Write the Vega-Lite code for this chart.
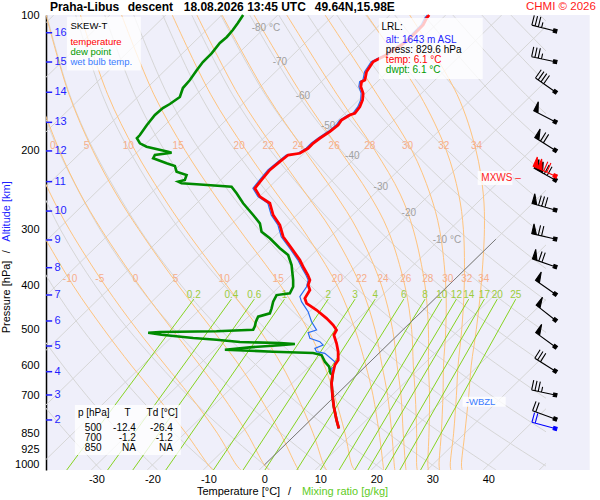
{
  "$schema": "https://vega.github.io/schema/vega-lite/v6.json",
  "width": 500,
  "height": 455,
  "autosize": {"type": "none"},
  "padding": {"left": 46, "top": 15, "right": 54, "bottom": 30},
  "background": "white",
  "config": {
    "font": "Liberation Sans",
    "view": {"fill": "#efeffa", "stroke": null},
    "axis": {"labelFont": "Liberation Sans"}
  },
  "datasets": {
    "iso": [
      {"id": -120, "x": -120.92, "p": 1026}, {"id": -120, "x": -37.6, "p": 100},
      {"id": -110, "x": -110.92, "p": 1026}, {"id": -110, "x": -27.6, "p": 100},
      {"id": -100, "x": -100.92, "p": 1026}, {"id": -100, "x": -17.6, "p": 100},
      {"id": -90, "x": -90.92, "p": 1026}, {"id": -90, "x": -7.6, "p": 100},
      {"id": -80, "x": -80.92, "p": 1026}, {"id": -80, "x": 2.4, "p": 100},
      {"id": -70, "x": -70.92, "p": 1026}, {"id": -70, "x": 12.4, "p": 100},
      {"id": -60, "x": -60.92, "p": 1026}, {"id": -60, "x": 22.4, "p": 100},
      {"id": -50, "x": -50.92, "p": 1026}, {"id": -50, "x": 32.4, "p": 100},
      {"id": -40, "x": -40.92, "p": 1026}, {"id": -40, "x": 42.4, "p": 100},
      {"id": -30, "x": -30.92, "p": 1026}, {"id": -30, "x": 52.4, "p": 100},
      {"id": -20, "x": -20.92, "p": 1026}, {"id": -20, "x": 62.4, "p": 100},
      {"id": -10, "x": -10.92, "p": 1026}, {"id": -10, "x": 72.4, "p": 100},
      {"id": 0, "x": -0.92, "p": 1026}, {"id": 0, "x": 82.4, "p": 100},
      {"id": 10, "x": 9.08, "p": 1026}, {"id": 10, "x": 92.4, "p": 100},
      {"id": 20, "x": 19.08, "p": 1026}, {"id": 20, "x": 102.4, "p": 100},
      {"id": 30, "x": 29.08, "p": 1026}, {"id": 30, "x": 112.4, "p": 100},
      {"id": 40, "x": 39.08, "p": 1026}, {"id": 40, "x": 122.4, "p": 100},
      {"id": 50, "x": 49.08, "p": 1026}, {"id": 50, "x": 132.4, "p": 100}
    ],
    "dry": [
      {"id": -30, "x": -29.13, "p": 1026}, {"id": -30, "x": -30, "p": 1000}, {"id": -30, "x": -35.21, "p": 850}, {"id": -30, "x": -40.81, "p": 700}, {"id": -30, "x": -48.89, "p": 500},
      {"id": -20, "x": -19.06, "p": 1026}, {"id": -20, "x": -20, "p": 1000}, {"id": -20, "x": -25.67, "p": 850}, {"id": -20, "x": -31.78, "p": 700}, {"id": -20, "x": -40.68, "p": 500}, {"id": -20, "x": -45.55, "p": 400},
      {"id": -10, "x": -8.98, "p": 1026}, {"id": -10, "x": -10, "p": 1000}, {"id": -10, "x": -16.12, "p": 850}, {"id": -10, "x": -22.75, "p": 700}, {"id": -10, "x": -32.48, "p": 500}, {"id": -10, "x": -37.85, "p": 400}, {"id": -10, "x": -43.5, "p": 300},
      {"id": 0, "x": 1.09, "p": 1026}, {"id": 0, "x": 0, "p": 1000}, {"id": 0, "x": -6.57, "p": 850}, {"id": 0, "x": -13.72, "p": 700}, {"id": 0, "x": -24.28, "p": 500}, {"id": 0, "x": -30.16, "p": 400}, {"id": 0, "x": -36.41, "p": 300}, {"id": 0, "x": -43.08, "p": 200},
      {"id": 10, "x": 11.17, "p": 1026}, {"id": 10, "x": 10, "p": 1000}, {"id": 10, "x": 2.97, "p": 850}, {"id": 10, "x": -4.69, "p": 700}, {"id": 10, "x": -16.07, "p": 500}, {"id": 10, "x": -22.46, "p": 400}, {"id": 10, "x": -29.32, "p": 300}, {"id": 10, "x": -36.77, "p": 200}, {"id": 10, "x": -40.6, "p": 150},
      {"id": 20, "x": 21.24, "p": 1026}, {"id": 20, "x": 20, "p": 1000}, {"id": 20, "x": 12.52, "p": 850}, {"id": 20, "x": 4.34, "p": 700}, {"id": 20, "x": -7.87, "p": 500}, {"id": 20, "x": -14.77, "p": 400}, {"id": 20, "x": -22.23, "p": 300}, {"id": 20, "x": -30.46, "p": 200}, {"id": 20, "x": -34.79, "p": 150}, {"id": 20, "x": -38.88, "p": 100},
      {"id": 30, "x": 31.31, "p": 1026}, {"id": 30, "x": 30, "p": 1000}, {"id": 30, "x": 22.06, "p": 850}, {"id": 30, "x": 13.37, "p": 700}, {"id": 30, "x": 0.33, "p": 500}, {"id": 30, "x": -7.07, "p": 400}, {"id": 30, "x": -15.14, "p": 300}, {"id": 30, "x": -24.14, "p": 200}, {"id": 30, "x": -28.98, "p": 150}, {"id": 30, "x": -33.7, "p": 100},
      {"id": 40, "x": 41.39, "p": 1026}, {"id": 40, "x": 40, "p": 1000}, {"id": 40, "x": 31.61, "p": 850}, {"id": 40, "x": 22.4, "p": 700}, {"id": 40, "x": 8.54, "p": 500}, {"id": 40, "x": 0.62, "p": 400}, {"id": 40, "x": -8.05, "p": 300}, {"id": 40, "x": -17.83, "p": 200}, {"id": 40, "x": -23.16, "p": 150}, {"id": 40, "x": -28.51, "p": 100},
      {"id": 50, "x": 51.46, "p": 1026}, {"id": 50, "x": 50, "p": 1000}, {"id": 50, "x": 41.16, "p": 850}, {"id": 50, "x": 31.43, "p": 700}, {"id": 50, "x": 16.74, "p": 500}, {"id": 50, "x": 8.32, "p": 400}, {"id": 50, "x": -0.96, "p": 300}, {"id": 50, "x": -11.52, "p": 200}, {"id": 50, "x": -17.35, "p": 150}, {"id": 50, "x": -23.33, "p": 100},
      {"id": 60, "x": 61.53, "p": 1026}, {"id": 60, "x": 60, "p": 1000}, {"id": 60, "x": 50.7, "p": 850}, {"id": 60, "x": 40.47, "p": 700}, {"id": 60, "x": 24.94, "p": 500}, {"id": 60, "x": 16.02, "p": 400}, {"id": 60, "x": 6.13, "p": 300}, {"id": 60, "x": -5.2, "p": 200}, {"id": 60, "x": -11.53, "p": 150}, {"id": 60, "x": -18.15, "p": 100},
      {"id": 70, "x": 70, "p": 1000}, {"id": 70, "x": 60.25, "p": 850}, {"id": 70, "x": 49.5, "p": 700}, {"id": 70, "x": 33.15, "p": 500}, {"id": 70, "x": 23.71, "p": 400}, {"id": 70, "x": 13.22, "p": 300}, {"id": 70, "x": 1.11, "p": 200}, {"id": 70, "x": -5.72, "p": 150}, {"id": 70, "x": -12.97, "p": 100},
      {"id": 80, "x": 69.8, "p": 850}, {"id": 80, "x": 58.53, "p": 700}, {"id": 80, "x": 41.35, "p": 500}, {"id": 80, "x": 31.41, "p": 400}, {"id": 80, "x": 20.31, "p": 300}, {"id": 80, "x": 7.43, "p": 200}, {"id": 80, "x": 0.1, "p": 150}, {"id": 80, "x": -7.79, "p": 100},
      {"id": 90, "x": 67.56, "p": 700}, {"id": 90, "x": 49.55, "p": 500}, {"id": 90, "x": 39.1, "p": 400}, {"id": 90, "x": 27.4, "p": 300}, {"id": 90, "x": 13.74, "p": 200}, {"id": 90, "x": 5.92, "p": 150}, {"id": 90, "x": -2.61, "p": 100},
      {"id": 100, "x": 76.6, "p": 700}, {"id": 100, "x": 57.76, "p": 500}, {"id": 100, "x": 46.8, "p": 400}, {"id": 100, "x": 34.48, "p": 300}, {"id": 100, "x": 20.05, "p": 200}, {"id": 100, "x": 11.73, "p": 150}, {"id": 100, "x": 2.57, "p": 100},
      {"id": 110, "x": 65.96, "p": 500}, {"id": 110, "x": 54.49, "p": 400}, {"id": 110, "x": 41.57, "p": 300}, {"id": 110, "x": 26.37, "p": 200}, {"id": 110, "x": 17.55, "p": 150}, {"id": 110, "x": 7.75, "p": 100},
      {"id": 120, "x": 74.2, "p": 500}, {"id": 120, "x": 62.19, "p": 400}, {"id": 120, "x": 48.66, "p": 300}, {"id": 120, "x": 32.68, "p": 200}, {"id": 120, "x": 23.36, "p": 150}, {"id": 120, "x": 12.93, "p": 100},
      {"id": 130, "x": 69.88, "p": 400}, {"id": 130, "x": 55.75, "p": 300}, {"id": 130, "x": 39.0, "p": 200}, {"id": 130, "x": 29.18, "p": 150}, {"id": 130, "x": 18.11, "p": 100},
      {"id": 140, "x": 77.6, "p": 400}, {"id": 140, "x": 62.84, "p": 300}, {"id": 140, "x": 45.31, "p": 200}, {"id": 140, "x": 34.99, "p": 150}, {"id": 140, "x": 23.29, "p": 100},
      {"id": 150, "x": 69.93, "p": 300}, {"id": 150, "x": 51.62, "p": 200}, {"id": 150, "x": 40.81, "p": 150}, {"id": 150, "x": 28.47, "p": 100},
      {"id": 160, "x": 77.0, "p": 300}, {"id": 160, "x": 57.94, "p": 200}, {"id": 160, "x": 46.62, "p": 150}, {"id": 160, "x": 33.66, "p": 100},
      {"id": 170, "x": 64.25, "p": 200}, {"id": 170, "x": 52.44, "p": 150}, {"id": 170, "x": 38.84, "p": 100},
      {"id": 180, "x": 70.6, "p": 200}, {"id": 180, "x": 58.25, "p": 150}, {"id": 180, "x": 44.02, "p": 100},
      {"id": 190, "x": 76.9, "p": 200}, {"id": 190, "x": 64.07, "p": 150}, {"id": 190, "x": 49.2, "p": 100}
    ],
    "moist": [
      {"id": -10, "x": -9.2, "p": 1026}, {"id": -10, "x": -10, "p": 1000}, {"id": -10, "x": -14.0, "p": 850}, {"id": -10, "x": -19.4, "p": 700}, {"id": -10, "x": -23.8, "p": 600}, {"id": -10, "x": -28.65, "p": 500}, {"id": -10, "x": -34.1, "p": 400}, {"id": -10, "x": -40.06, "p": 300},
      {"id": -5, "x": -4.2, "p": 1026}, {"id": -5, "x": -5, "p": 1000}, {"id": -5, "x": -8.4, "p": 850}, {"id": -5, "x": -13.35, "p": 700}, {"id": -5, "x": -17.7, "p": 600}, {"id": -5, "x": -22.75, "p": 500}, {"id": -5, "x": -28.4, "p": 400}, {"id": -5, "x": -34.8, "p": 300}, {"id": -5, "x": -38.2, "p": 250}, {"id": -5, "x": -41.65, "p": 200},
      {"id": 0, "x": 0.8, "p": 1026}, {"id": 0, "x": 0, "p": 1000}, {"id": 0, "x": -3.1, "p": 850}, {"id": 0, "x": -7.55, "p": 700}, {"id": 0, "x": -11.55, "p": 600}, {"id": 0, "x": -16.45, "p": 500}, {"id": 0, "x": -22.3, "p": 400}, {"id": 0, "x": -29.1, "p": 300}, {"id": 0, "x": -32.85, "p": 250}, {"id": 0, "x": -36.6, "p": 200}, {"id": 0, "x": -40.5, "p": 150},
      {"id": 5, "x": 6.1, "p": 1026}, {"id": 5, "x": 5.6, "p": 1000}, {"id": 5, "x": 2.85, "p": 850}, {"id": 5, "x": -1.0, "p": 700}, {"id": 5, "x": -4.5, "p": 600}, {"id": 5, "x": -9.3, "p": 500}, {"id": 5, "x": -15.3, "p": 400}, {"id": 5, "x": -22.4, "p": 300}, {"id": 5, "x": -26.45, "p": 250}, {"id": 5, "x": -30.65, "p": 200}, {"id": 5, "x": -34.9, "p": 150}, {"id": 5, "x": -39.0, "p": 100},
      {"id": 10, "x": 11.1, "p": 1026}, {"id": 10, "x": 10.6, "p": 1000}, {"id": 10, "x": 8.7, "p": 850}, {"id": 10, "x": 5.8, "p": 700}, {"id": 10, "x": 3.1, "p": 600}, {"id": 10, "x": -0.9, "p": 500}, {"id": 10, "x": -6.65, "p": 400}, {"id": 10, "x": -14.1, "p": 300}, {"id": 10, "x": -18.4, "p": 250}, {"id": 10, "x": -23.1, "p": 200}, {"id": 10, "x": -28.0, "p": 150}, {"id": 10, "x": -32.85, "p": 100},
      {"id": 15, "x": 16.1, "p": 1026}, {"id": 15, "x": 15.6, "p": 1000}, {"id": 15, "x": 14.4, "p": 850}, {"id": 15, "x": 12.5, "p": 700}, {"id": 15, "x": 10.7, "p": 600}, {"id": 15, "x": 7.75, "p": 500}, {"id": 15, "x": 2.95, "p": 400}, {"id": 15, "x": -4.45, "p": 300}, {"id": 15, "x": -9.0, "p": 250}, {"id": 15, "x": -14.15, "p": 200}, {"id": 15, "x": -19.75, "p": 150}, {"id": 15, "x": -25.5, "p": 100},
      {"id": 20, "x": 21.3, "p": 1026}, {"id": 20, "x": 21.2, "p": 1000}, {"id": 20, "x": 20.5, "p": 850}, {"id": 20, "x": 19.4, "p": 700}, {"id": 20, "x": 18.1, "p": 600}, {"id": 20, "x": 16.2, "p": 500}, {"id": 20, "x": 13.05, "p": 400}, {"id": 20, "x": 6.9, "p": 300}, {"id": 20, "x": 2.25, "p": 250}, {"id": 20, "x": -3.25, "p": 200}, {"id": 20, "x": -9.6, "p": 150}, {"id": 20, "x": -16.45, "p": 100},
      {"id": 22, "x": 23.3, "p": 1026}, {"id": 22, "x": 23.2, "p": 1000}, {"id": 22, "x": 22.76, "p": 850}, {"id": 22, "x": 22.0, "p": 700}, {"id": 22, "x": 21.0, "p": 600}, {"id": 22, "x": 19.76, "p": 500}, {"id": 22, "x": 17.2, "p": 400}, {"id": 22, "x": 11.9, "p": 300}, {"id": 22, "x": 7.45, "p": 250}, {"id": 22, "x": 1.95, "p": 200}, {"id": 22, "x": -4.7, "p": 150}, {"id": 22, "x": -12.05, "p": 100},
      {"id": 24, "x": 25.3, "p": 1026}, {"id": 24, "x": 25.2, "p": 1000}, {"id": 24, "x": 24.8, "p": 850}, {"id": 24, "x": 24.4, "p": 700}, {"id": 24, "x": 23.7, "p": 600}, {"id": 24, "x": 22.9, "p": 500}, {"id": 24, "x": 20.95, "p": 400}, {"id": 24, "x": 16.6, "p": 300}, {"id": 24, "x": 12.65, "p": 250}, {"id": 24, "x": 7.15, "p": 200}, {"id": 24, "x": 0.35, "p": 150}, {"id": 24, "x": -7.55, "p": 100},
      {"id": 26, "x": 27.3, "p": 1026}, {"id": 26, "x": 27.2, "p": 1000}, {"id": 26, "x": 27.2, "p": 850}, {"id": 26, "x": 26.95, "p": 700}, {"id": 26, "x": 26.6, "p": 600}, {"id": 26, "x": 26.3, "p": 500}, {"id": 26, "x": 25.1, "p": 400}, {"id": 26, "x": 22.05, "p": 300}, {"id": 26, "x": 18.7, "p": 250}, {"id": 26, "x": 13.5, "p": 200}, {"id": 26, "x": 6.65, "p": 150}, {"id": 26, "x": -1.85, "p": 100},
      {"id": 28, "x": 29.3, "p": 1026}, {"id": 28, "x": 29.2, "p": 1000}, {"id": 28, "x": 29.4, "p": 850}, {"id": 28, "x": 29.5, "p": 700}, {"id": 28, "x": 29.3, "p": 600}, {"id": 28, "x": 29.3, "p": 500}, {"id": 28, "x": 28.7, "p": 400}, {"id": 28, "x": 26.6, "p": 300}, {"id": 28, "x": 24.25, "p": 250}, {"id": 28, "x": 19.75, "p": 200}, {"id": 28, "x": 12.95, "p": 150}, {"id": 28, "x": 4.0, "p": 100},
      {"id": 30, "x": 31.3, "p": 1026}, {"id": 30, "x": 31.2, "p": 1000}, {"id": 30, "x": 31.6, "p": 850}, {"id": 30, "x": 31.9, "p": 700}, {"id": 30, "x": 32.0, "p": 600}, {"id": 30, "x": 32.4, "p": 500}, {"id": 30, "x": 32.4, "p": 400}, {"id": 30, "x": 31.3, "p": 300}, {"id": 30, "x": 29.6, "p": 250}, {"id": 30, "x": 26.35, "p": 200}, {"id": 30, "x": 20.1, "p": 150}, {"id": 30, "x": 10.85, "p": 100},
      {"id": 32, "x": 33.3, "p": 1026}, {"id": 32, "x": 33.2, "p": 1000}, {"id": 32, "x": 33.8, "p": 850}, {"id": 32, "x": 34.3, "p": 700}, {"id": 32, "x": 34.6, "p": 600}, {"id": 32, "x": 35.25, "p": 500}, {"id": 32, "x": 35.7, "p": 400}, {"id": 32, "x": 35.55, "p": 300}, {"id": 32, "x": 34.7, "p": 250}, {"id": 32, "x": 32.5, "p": 200}, {"id": 32, "x": 27.7, "p": 150}, {"id": 32, "x": 18.3, "p": 100},
      {"id": 34, "x": 35.3, "p": 1026}, {"id": 34, "x": 35.2, "p": 1000}, {"id": 34, "x": 35.8, "p": 850}, {"id": 34, "x": 36.5, "p": 700}, {"id": 34, "x": 36.95, "p": 600}, {"id": 34, "x": 37.85, "p": 500}, {"id": 34, "x": 38.7, "p": 400}, {"id": 34, "x": 39.3, "p": 300}, {"id": 34, "x": 39.1, "p": 250}, {"id": 34, "x": 37.8, "p": 200}, {"id": 34, "x": 34.4, "p": 150}, {"id": 34, "x": 25.95, "p": 100}
    ],
    "mix": [
      {"id": "0.2", "x": -35.3, "p": 1026}, {"id": "0.2", "x": -12.6, "p": 428},
      {"id": "0.4", "x": -28.0, "p": 1026}, {"id": "0.4", "x": -5.9, "p": 428},
      {"id": "0.6", "x": -23.5, "p": 1026}, {"id": "0.6", "x": -1.8, "p": 428},
      {"id": "1", "x": -17.6, "p": 1026}, {"id": "1", "x": 3.6, "p": 428},
      {"id": "2", "x": -9.1, "p": 1026}, {"id": "2", "x": 11.4, "p": 428},
      {"id": "3", "x": -3.8, "p": 1026}, {"id": "3", "x": 16.2, "p": 428},
      {"id": "4", "x": 0.1, "p": 1026}, {"id": "4", "x": 19.8, "p": 428},
      {"id": "6", "x": 5.8, "p": 1026}, {"id": "6", "x": 24.9, "p": 428},
      {"id": "8", "x": 10.0, "p": 1026}, {"id": "8", "x": 28.7, "p": 428},
      {"id": "10", "x": 13.35, "p": 1026}, {"id": "10", "x": 31.7, "p": 428},
      {"id": "12", "x": 16.15, "p": 1026}, {"id": "12", "x": 34.3, "p": 428},
      {"id": "14", "x": 18.5, "p": 1026}, {"id": "14", "x": 36.5, "p": 428},
      {"id": "17", "x": 21.6, "p": 1026}, {"id": "17", "x": 39.3, "p": 428},
      {"id": "20", "x": 24.2, "p": 1026}, {"id": "20", "x": 41.6, "p": 428},
      {"id": "25", "x": 27.9, "p": 1026}, {"id": "25", "x": 44.9, "p": 428}
    ],
    "grid": [{"p": 200}, {"p": 300}, {"p": 400}, {"p": 500}, {"p": 600}, {"p": 700}, {"p": 850}, {"p": 925}, {"p": 1000}],
    "altTicks": [
      {"x": -39, "x2": -37.9, "p": 109.5}, {"x": -39, "x2": -37.9, "p": 127.2}, {"x": -39, "x2": -37.9, "p": 148.5},
      {"x": -39, "x2": -37.9, "p": 173.2}, {"x": -39, "x2": -37.9, "p": 200.5}, {"x": -39, "x2": -37.9, "p": 234.6},
      {"x": -39, "x2": -37.9, "p": 272.7}, {"x": -39, "x2": -37.9, "p": 316.2}, {"x": -39, "x2": -37.9, "p": 364.4},
      {"x": -39, "x2": -37.9, "p": 419.0}, {"x": -39, "x2": -37.9, "p": 478.6}, {"x": -39, "x2": -37.9, "p": 544.0},
      {"x": -39, "x2": -37.9, "p": 620.4}, {"x": -39, "x2": -37.9, "p": 698.9}, {"x": -39, "x2": -37.9, "p": 794.3}
    ],
    "altLabels": [
      {"t": "16", "x": -37.5, "p": 109.5}, {"t": "15", "x": -37.5, "p": 127.2}, {"t": "14", "x": -37.5, "p": 148.5},
      {"t": "13", "x": -37.5, "p": 173.2}, {"t": "12", "x": -37.5, "p": 200.5}, {"t": "11", "x": -37.5, "p": 234.6},
      {"t": "10", "x": -37.5, "p": 272.7}, {"t": "9", "x": -37.5, "p": 316.2}, {"t": "8", "x": -37.5, "p": 364.4},
      {"t": "7", "x": -37.5, "p": 419.0}, {"t": "6", "x": -37.5, "p": 478.6}, {"t": "5", "x": -37.5, "p": 544.0},
      {"t": "4", "x": -37.5, "p": 620.4}, {"t": "3", "x": -37.5, "p": 698.9}, {"t": "2", "x": -37.5, "p": 794.3}
    ],
    "labels": [
      {"t": "-80 °C", "x": 0.27, "p": 106.7, "kind": "isotherm"},
      {"t": "-70", "x": 2.77, "p": 127.4, "kind": "isotherm"},
      {"t": "-60", "x": 6.88, "p": 151.4, "kind": "isotherm"},
      {"t": "-50", "x": 11.4, "p": 176.5, "kind": "isotherm"},
      {"t": "-40", "x": 15.7, "p": 205.7, "kind": "isotherm"},
      {"t": "-30", "x": 20.8, "p": 241.1, "kind": "isotherm"},
      {"t": "-20", "x": 25.8, "p": 275.4, "kind": "isotherm"},
      {"t": "-10 °C", "x": 32.6, "p": 316.2, "kind": "isotherm"},
      {"t": "0", "x": -37.8, "p": 195.5, "kind": "adiabat"},
      {"t": "5", "x": -31.75, "p": 195.5, "kind": "adiabat"},
      {"t": "10", "x": -24.3, "p": 195.5, "kind": "adiabat"},
      {"t": "15", "x": -15.4, "p": 195.5, "kind": "adiabat"},
      {"t": "20", "x": -4.5, "p": 195.5, "kind": "adiabat"},
      {"t": "22", "x": 0.68, "p": 195.5, "kind": "adiabat"},
      {"t": "24", "x": 6.0, "p": 195.5, "kind": "adiabat"},
      {"t": "26", "x": 12.46, "p": 195.5, "kind": "adiabat"},
      {"t": "28", "x": 18.84, "p": 195.5, "kind": "adiabat"},
      {"t": "30", "x": 25.57, "p": 195.5, "kind": "adiabat"},
      {"t": "32", "x": 32.05, "p": 195.5, "kind": "adiabat"},
      {"t": "34", "x": 37.9, "p": 195.5, "kind": "adiabat"},
      {"t": "-10", "x": -34.7, "p": 386.7, "kind": "adiabat"},
      {"t": "-5", "x": -29.4, "p": 386.7, "kind": "adiabat"},
      {"t": "0", "x": -23.0, "p": 386.7, "kind": "adiabat"},
      {"t": "5", "x": -15.86, "p": 386.7, "kind": "adiabat"},
      {"t": "10", "x": -7.18, "p": 386.7, "kind": "adiabat"},
      {"t": "15", "x": 2.46, "p": 386.7, "kind": "adiabat"},
      {"t": "20", "x": 13.04, "p": 386.7, "kind": "adiabat"},
      {"t": "22", "x": 17.36, "p": 386.7, "kind": "adiabat"},
      {"t": "24", "x": 21.2, "p": 386.7, "kind": "adiabat"},
      {"t": "26", "x": 25.27, "p": 386.7, "kind": "adiabat"},
      {"t": "28", "x": 29.2, "p": 386.7, "kind": "adiabat"},
      {"t": "30", "x": 32.77, "p": 386.7, "kind": "adiabat"},
      {"t": "32", "x": 36.16, "p": 386.7, "kind": "adiabat"},
      {"t": "34", "x": 39.2, "p": 386.7, "kind": "adiabat"},
      {"t": "0.2", "x": -12.6, "p": 419, "kind": "mixing"},
      {"t": "0.4", "x": -5.9, "p": 419, "kind": "mixing"},
      {"t": "0.6", "x": -1.8, "p": 419, "kind": "mixing"},
      {"t": "1", "x": 3.6, "p": 419, "kind": "mixing"},
      {"t": "2", "x": 11.4, "p": 419, "kind": "mixing"},
      {"t": "3", "x": 16.2, "p": 419, "kind": "mixing"},
      {"t": "4", "x": 19.8, "p": 419, "kind": "mixing"},
      {"t": "6", "x": 24.9, "p": 419, "kind": "mixing"},
      {"t": "8", "x": 28.7, "p": 419, "kind": "mixing"},
      {"t": "10", "x": 31.7, "p": 419, "kind": "mixing"},
      {"t": "12", "x": 34.3, "p": 419, "kind": "mixing"},
      {"t": "14", "x": 36.5, "p": 419, "kind": "mixing"},
      {"t": "17", "x": 39.3, "p": 419, "kind": "mixing"},
      {"t": "20", "x": 41.6, "p": 419, "kind": "mixing"},
      {"t": "25", "x": 44.9, "p": 419, "kind": "mixing"}
    ],
    "boxes": [
      {"x": -35.27, "x2": -22.05, "p": 100.9, "p2": 132.9},
      {"x": 20.45, "x2": 39.0, "p": 101.5, "p2": 138.8},
      {"x": -33.84, "x2": -14.91, "p": 735.6, "p2": 950.1},
      {"x": 35.4, "x2": 43.1, "p": 704.9, "p2": 742.0},
      {"x": 38.1, "x2": 44.3, "p": 222.2, "p2": 238.6}
    ],
    "legendText": [
      {"t": "SKEW-T", "x": -34.64, "p": 105.8, "kind": "plain"},
      {"t": "temperature", "x": -34.64, "p": 115.0, "kind": "temperature"},
      {"t": "dew point", "x": -34.64, "p": 120.7, "kind": "dewpoint"},
      {"t": "wet bulb temp.", "x": -34.64, "p": 127.0, "kind": "wetbulb"}
    ],
    "leftText": [
      {"t": "LRL:", "x": 20.93, "p": 106.5, "kind": "plain"},
      {"t": "alt: 1643 m ASL", "x": 21.7, "p": 113.7, "kind": "altitude"},
      {"t": "press: 829.6 hPa", "x": 21.7, "p": 119.6, "kind": "plain"},
      {"t": "temp: 6.1 °C", "x": 21.7, "p": 125.9, "kind": "temperature"},
      {"t": "dwpt: 6.1 °C", "x": 21.7, "p": 132.5, "kind": "dewpoint"},
      {"t": "p [hPa]", "x": -33.3, "p": 767.6, "kind": "plain"},
      {"t": "Td [°C]", "x": -21.04, "p": 767.6, "kind": "plain"}
    ],
    "centerText": [
      {"t": "T", "x": -24.43, "p": 767.6},
      {"t": "500", "x": -30.57, "p": 828.9},
      {"t": "700", "x": -30.57, "p": 872.5},
      {"t": "850", "x": -30.57, "p": 918.1}
    ],
    "rightText": [
      {"t": "-12.4", "x": -22.95, "p": 828.9, "kind": "plain"},
      {"t": "-26.4", "x": -16.34, "p": 828.9, "kind": "plain"},
      {"t": "-1.2", "x": -22.95, "p": 872.5, "kind": "plain"},
      {"t": "-1.2", "x": -16.34, "p": 872.5, "kind": "plain"},
      {"t": "NA", "x": -22.95, "p": 918.1, "kind": "plain"},
      {"t": "NA", "x": -16.34, "p": 918.1, "kind": "plain"},
      {"t": "MXWS –", "x": 45.8, "p": 230.3, "kind": "maxwind"}
    ],
    "header": [
      {"t": "Praha-Libus", "x": -38.3, "p": 96},
      {"t": "descent", "x": -24.4, "p": 96},
      {"t": "18.08.2026 13:45 UTC", "x": -14.4, "p": 96},
      {"t": "49.64N,15.98E", "x": 9.0, "p": 96}
    ],
    "temp": [
      {"x": 29.43, "p": 100}, {"x": 28.96, "p": 101.7}, {"x": 28.36, "p": 105.2}, {"x": 26.88, "p": 109.8}, {"x": 25.98, "p": 112.7},
      {"x": 24.5, "p": 116.6}, {"x": 23.0, "p": 119.6}, {"x": 21.82, "p": 122.7}, {"x": 20.63, "p": 124.8}, {"x": 19.43, "p": 127.0},
      {"x": 18.84, "p": 130.3}, {"x": 18.25, "p": 133.7}, {"x": 17.95, "p": 139.5}, {"x": 17.36, "p": 140.7}, {"x": 17.23, "p": 144.3},
      {"x": 17.64, "p": 149.3}, {"x": 17.54, "p": 154.5}, {"x": 17.05, "p": 159.9}, {"x": 16.16, "p": 165.4}, {"x": 15.27, "p": 166.8},
      {"x": 13.79, "p": 171.2}, {"x": 13.18, "p": 175.6}, {"x": 11.7, "p": 181.6}, {"x": 9.91, "p": 187.9}, {"x": 8.71, "p": 192.8},
      {"x": 7.82, "p": 197.8}, {"x": 6.34, "p": 202.9}, {"x": 4.25, "p": 204.7}, {"x": 2.77, "p": 211.8}, {"x": 0.98, "p": 221.0},
      {"x": -0.5, "p": 232.6}, {"x": -1.7, "p": 242.7}, {"x": -0.8, "p": 253.3}, {"x": 0.98, "p": 262.0}, {"x": 1.57, "p": 278.3},
      {"x": 2.77, "p": 292.9}, {"x": 3.36, "p": 311.0}, {"x": 4.86, "p": 329.9}, {"x": 6.34, "p": 350.4}, {"x": 7.05, "p": 365.0},
      {"x": 7.77, "p": 378.3}, {"x": 8.13, "p": 388.1}, {"x": 7.82, "p": 398.1}, {"x": 8.13, "p": 408.4}, {"x": 7.23, "p": 426.2},
      {"x": 7.54, "p": 437.3}, {"x": 9.32, "p": 452.5}, {"x": 11.11, "p": 472.1}, {"x": 12.29, "p": 488.6}, {"x": 12.89, "p": 501.2},
      {"x": 12.41, "p": 514.2}, {"x": 12.89, "p": 536.6}, {"x": 13.18, "p": 560.1}, {"x": 13.18, "p": 584.5}, {"x": 12.59, "p": 599.7},
      {"x": 12.18, "p": 631.0}, {"x": 12.0, "p": 658.4}, {"x": 12.18, "p": 704.9}, {"x": 12.41, "p": 742.0}, {"x": 12.89, "p": 794.3},
      {"x": 13.3, "p": 829.6}
    ],
    "dew": [
      {"x": -3.79, "p": 100}, {"x": -4.73, "p": 104.2}, {"x": -5.63, "p": 108.0}, {"x": -6.7, "p": 111.9}, {"x": -7.95, "p": 115.4},
      {"x": -9.38, "p": 121.5}, {"x": -10.98, "p": 127.2}, {"x": -12.05, "p": 132.5}, {"x": -13.3, "p": 139.5}, {"x": -14.55, "p": 145.3},
      {"x": -15.09, "p": 152.1}, {"x": -16.88, "p": 157.7}, {"x": -18.13, "p": 161.0}, {"x": -19.55, "p": 166.8}, {"x": -20.98, "p": 175.6},
      {"x": -22.23, "p": 184.8}, {"x": -22.77, "p": 187.9}, {"x": -22.23, "p": 192.8}, {"x": -21.04, "p": 196.2}, {"x": -17.18, "p": 201.3},
      {"x": -16.57, "p": 202.3}, {"x": -19.55, "p": 204.7}, {"x": -19.86, "p": 208.2}, {"x": -17.46, "p": 213.6}, {"x": -15.98, "p": 216.6},
      {"x": -15.68, "p": 222.9}, {"x": -13.89, "p": 226.7}, {"x": -14.2, "p": 232.6}, {"x": -15.39, "p": 234.6}, {"x": -14.79, "p": 236.6},
      {"x": -12.11, "p": 237.8}, {"x": -5.86, "p": 240.7}, {"x": -4.96, "p": 249.0}, {"x": -3.79, "p": 262.0}, {"x": -2.0, "p": 278.3},
      {"x": -0.8, "p": 290.4}, {"x": -0.5, "p": 303.1}, {"x": 0.98, "p": 313.5}, {"x": 2.77, "p": 329.9}, {"x": 4.25, "p": 341.5},
      {"x": 4.86, "p": 359.4}, {"x": 5.14, "p": 388.1}, {"x": 5.14, "p": 401.7}, {"x": 4.55, "p": 415.6}, {"x": 2.18, "p": 419.2},
      {"x": 1.57, "p": 433.6}, {"x": 1.29, "p": 448.6}, {"x": 0.98, "p": 460.2}, {"x": -1.11, "p": 468.2}, {"x": -1.52, "p": 480.4},
      {"x": -1.7, "p": 491.8}, {"x": -2.0, "p": 500.4}, {"x": -8.54, "p": 504.5}, {"x": -18.66, "p": 506.3}, {"x": -20.75, "p": 508.2},
      {"x": -18.36, "p": 513.4}, {"x": -12.71, "p": 522.2}, {"x": -8.54, "p": 526.8}, {"x": -4.38, "p": 533.0}, {"x": 2.77, "p": 535.8},
      {"x": 5.45, "p": 538.5}, {"x": 2.77, "p": 542.1}, {"x": -2.59, "p": 547.7}, {"x": -7.05, "p": 554.5}, {"x": -2.59, "p": 557.3},
      {"x": 1.57, "p": 560.1}, {"x": 8.71, "p": 563.9}, {"x": 10.21, "p": 569.7}, {"x": 10.8, "p": 589.4}, {"x": 11.57, "p": 604.7},
      {"x": 11.82, "p": 625.5}, {"x": 12.18, "p": 631.0}, {"x": 12.0, "p": 658.4}, {"x": 12.18, "p": 704.9}, {"x": 12.41, "p": 742.0},
      {"x": 12.89, "p": 794.3}, {"x": 13.3, "p": 829.6}
    ],
    "wet": [
      {"x": 29.08, "p": 100}, {"x": 28.61, "p": 101.7}, {"x": 28.01, "p": 105.2}, {"x": 26.53, "p": 109.8}, {"x": 25.63, "p": 112.7},
      {"x": 24.15, "p": 116.6}, {"x": 22.65, "p": 119.6}, {"x": 21.47, "p": 122.7}, {"x": 20.28, "p": 124.8}, {"x": 19.08, "p": 127.0},
      {"x": 18.49, "p": 130.3}, {"x": 17.9, "p": 133.7}, {"x": 17.6, "p": 139.5}, {"x": 17.01, "p": 140.7}, {"x": 16.88, "p": 144.3},
      {"x": 17.29, "p": 149.3}, {"x": 17.19, "p": 154.5}, {"x": 16.7, "p": 159.9}, {"x": 15.81, "p": 165.4}, {"x": 14.92, "p": 166.8},
      {"x": 13.44, "p": 171.2}, {"x": 12.83, "p": 175.6}, {"x": 11.35, "p": 181.6}, {"x": 9.56, "p": 187.9}, {"x": 8.36, "p": 192.8},
      {"x": 7.47, "p": 197.8}, {"x": 5.99, "p": 202.9}, {"x": 3.9, "p": 204.7}, {"x": 2.42, "p": 211.8}, {"x": 0.63, "p": 221.0},
      {"x": -0.85, "p": 232.6}, {"x": -2.05, "p": 242.7}, {"x": -1.15, "p": 253.3}, {"x": 0.63, "p": 262.0}, {"x": 1.22, "p": 278.3},
      {"x": 2.42, "p": 292.9}, {"x": 3.01, "p": 311.0}, {"x": 4.51, "p": 329.9}, {"x": 5.99, "p": 350.4}, {"x": 6.7, "p": 365.0},
      {"x": 7.42, "p": 378.3}, {"x": 7.82, "p": 388.1}, {"x": 7.54, "p": 401.7}, {"x": 6.34, "p": 422.7}, {"x": 6.64, "p": 433.6},
      {"x": 7.82, "p": 456.4}, {"x": 8.43, "p": 480.4}, {"x": 9.32, "p": 501.2}, {"x": 7.82, "p": 508.2}, {"x": 8.13, "p": 522.9},
      {"x": 9.91, "p": 532.1}, {"x": 10.5, "p": 541.2}, {"x": 9.02, "p": 550.5}, {"x": 9.32, "p": 560.1}, {"x": 10.8, "p": 564.7},
      {"x": 12.59, "p": 589.4}, {"x": 12.59, "p": 604.7}, {"x": 12.0, "p": 609.6}, {"x": 12.18, "p": 631.0}, {"x": 12.0, "p": 658.4},
      {"x": 12.18, "p": 704.9}, {"x": 12.41, "p": 742.0}, {"x": 12.89, "p": 794.3}, {"x": 13.3, "p": 829.6}
    ],
    "barbsWind": [
      {"x": 51.93, "p": 108.5, "dir": 284, "spd": 35},
      {"x": 51.93, "p": 127.0, "dir": 282, "spd": 35},
      {"x": 51.93, "p": 148.1, "dir": 305, "spd": 40},
      {"x": 51.93, "p": 172.6, "dir": 297, "spd": 50},
      {"x": 51.93, "p": 199.8, "dir": 302, "spd": 70},
      {"x": 51.93, "p": 232.6, "dir": 299, "spd": 100},
      {"x": 51.93, "p": 271.3, "dir": 286, "spd": 80},
      {"x": 51.93, "p": 314.7, "dir": 283, "spd": 70},
      {"x": 51.93, "p": 362.5, "dir": 289, "spd": 70},
      {"x": 51.93, "p": 416.9, "dir": 305, "spd": 50},
      {"x": 51.93, "p": 476.1, "dir": 308, "spd": 50},
      {"x": 51.93, "p": 545.9, "dir": 306, "spd": 50},
      {"x": 51.93, "p": 618.2, "dir": 302, "spd": 30},
      {"x": 51.93, "p": 698.9, "dir": 282, "spd": 35},
      {"x": 51.93, "p": 790.4, "dir": 290, "spd": 20}
    ],
    "barbsMax": [
      {"x": 51.93, "p": 227.9, "dir": 294, "spd": 100}
    ],
    "barbsSfc": [
      {"x": 51.93, "p": 829.6, "dir": 285, "spd": 20}
    ]
  },
  "encoding": {
    "x": {
      "field": "x", "type": "quantitative",
      "scale": {"domain": [-39, 50.3], "nice": false, "zero": false},
      "axis": {
        "orient": "bottom", "values": [-30, -20, -10, 0, 10, 20, 30, 40],
        "domain": false, "ticks": false, "grid": false, "title": null,
        "labelFontSize": 11, "labelColor": "#000000", "labelPadding": 3,
        "labelFlush": false, "labelOverlap": false, "labelExpr": "'' + datum.value"
      }
    },
    "y": {
      "field": "p", "type": "quantitative",
      "scale": {"type": "log", "domain": [100, 1026], "reverse": true, "nice": false},
      "axis": {
        "orient": "left", "values": [100, 200, 300, 400, 500, 600, 700, 850, 925, 1000],
        "domain": true, "domainColor": "#000000", "domainWidth": 1.5,
        "ticks": false, "grid": false, "title": null,
        "labelFontSize": 11, "labelColor": "#000000", "labelPadding": 7,
        "labelFlush": false, "labelOverlap": false, "labelExpr": "'' + datum.value"
      }
    }
  },
  "layer": [
    {
      "data": {"values": [{"x": 50.3, "x2": 58.1, "p": 100, "p2": 1026}]},
      "mark": {"type": "rect", "fill": "#efeffa", "clip": false},
      "encoding": {"x2": {"field": "x2"}, "y2": {"field": "p2"}}
    },
    {
      "data": {"name": "iso"},
      "mark": {"type": "line", "clip": true, "color": "#d6d6d6", "strokeWidth": 1},
      "encoding": {"detail": {"field": "id", "type": "nominal"}, "order": {"field": "p", "type": "quantitative"}}
    },
    {
      "data": {"name": "dry"},
      "mark": {"type": "line", "clip": true, "color": "#d6d6d6", "strokeWidth": 1, "interpolate": "catmull-rom"},
      "encoding": {"detail": {"field": "id", "type": "nominal"}, "order": {"field": "p", "type": "quantitative"}}
    },
    {
      "data": {"name": "moist"},
      "mark": {"type": "line", "clip": true, "color": "#ffc47e", "strokeWidth": 1, "interpolate": "catmull-rom"},
      "encoding": {"detail": {"field": "id", "type": "nominal"}, "order": {"field": "p", "type": "quantitative"}}
    },
    {
      "data": {"name": "mix"},
      "mark": {"type": "line", "clip": true, "color": "#86d321", "strokeWidth": 1},
      "encoding": {"detail": {"field": "id", "type": "nominal"}, "order": {"field": "p", "type": "quantitative"}}
    },
    {
      "data": {"name": "grid"},
      "mark": {"type": "rule", "color": "#a8a8a8", "strokeWidth": 1.5},
      "encoding": {"x": {"datum": -39}, "x2": {"datum": 50.3}}
    },
    {
      "data": {"values": [{"x": 0, "p": 1000}, {"x": 41.34, "p": 315}]},
      "mark": {"type": "line", "color": "#7a7a7a", "strokeWidth": 1},
      "encoding": {"order": {"field": "p", "type": "quantitative"}}
    },
    {
      "data": {"values": [{"p": 100}]},
      "mark": {"type": "rule", "color": "#000000", "strokeWidth": 1.5, "clip": false},
      "encoding": {"x": {"datum": -39}, "x2": {"datum": 58.1}}
    },
    {
      "data": {"name": "altTicks"},
      "mark": {"type": "rule", "color": "#1f1fff", "strokeWidth": 1.5},
      "encoding": {"x2": {"field": "x2"}}
    },
    {
      "data": {"name": "altLabels"},
      "mark": {"type": "text", "align": "left", "baseline": "middle", "fontSize": 11, "color": "#1f1fff"},
      "encoding": {"text": {"field": "t"}}
    },
    {
      "data": {"name": "labels"},
      "mark": {"type": "text", "align": "center", "baseline": "middle", "fontSize": 10},
      "encoding": {
        "text": {"field": "t"},
        "color": {"field": "kind", "type": "nominal", "legend": null,
          "scale": {"domain": ["plain", "temperature", "dewpoint", "wetbulb", "altitude", "isotherm", "adiabat", "mixing", "maxwind", "brand", "mixtitle"],
                    "range": ["#000000", "#ff0000", "#009a00", "#3a7bff", "#1f1fff", "#a0a0a0", "#f6ae8a", "#9ccc3c", "#ff1a1a", "#ff1a1a", "#5fcc1f"]}}
      }
    },
    {
      "data": {"name": "dew"},
      "mark": {"type": "line", "color": "#008a00", "strokeWidth": 2.6},
      "encoding": {"order": {"field": "p", "type": "quantitative"}}
    },
    {
      "data": {"name": "wet"},
      "mark": {"type": "line", "color": "#2a6cf0", "strokeWidth": 1.2},
      "encoding": {"order": {"field": "p", "type": "quantitative"}}
    },
    {
      "data": {"name": "temp"},
      "mark": {"type": "line", "color": "#ff0000", "strokeWidth": 2.8},
      "encoding": {"order": {"field": "p", "type": "quantitative"}}
    },
    {
      "data": {"name": "boxes"},
      "mark": {"type": "rect", "fill": "#ffffff", "opacity": 0.78, "clip": false},
      "encoding": {"x2": {"field": "x2"}, "y2": {"field": "p2"}}
    },
    {
      "data": {"name": "legendText"},
      "mark": {"type": "text", "align": "left", "baseline": "middle", "fontSize": 9.5},
      "encoding": {
        "text": {"field": "t"},
        "color": {"field": "kind", "type": "nominal", "legend": null,
          "scale": {"domain": ["plain", "temperature", "dewpoint", "wetbulb", "altitude", "isotherm", "adiabat", "mixing", "maxwind", "brand", "mixtitle"],
                    "range": ["#000000", "#ff0000", "#009a00", "#3a7bff", "#1f1fff", "#a0a0a0", "#f6ae8a", "#9ccc3c", "#ff1a1a", "#ff1a1a", "#5fcc1f"]}}
      }
    },
    {
      "data": {"name": "leftText"},
      "mark": {"type": "text", "align": "left", "baseline": "middle", "fontSize": 10},
      "encoding": {
        "text": {"field": "t"},
        "color": {"field": "kind", "type": "nominal", "legend": null,
          "scale": {"domain": ["plain", "temperature", "dewpoint", "wetbulb", "altitude", "isotherm", "adiabat", "mixing", "maxwind", "brand", "mixtitle"],
                    "range": ["#000000", "#ff0000", "#009a00", "#3a7bff", "#1f1fff", "#a0a0a0", "#f6ae8a", "#9ccc3c", "#ff1a1a", "#ff1a1a", "#5fcc1f"]}}
      }
    },
    {
      "data": {"values": [{"t": "-WBZL", "x": 35.98, "p": 723}]},
      "mark": {"type": "text", "align": "left", "baseline": "middle", "fontSize": 9.5, "color": "#3a7bff"},
      "encoding": {"text": {"field": "t"}}
    },
    {
      "data": {"name": "centerText"},
      "mark": {"type": "text", "align": "center", "baseline": "middle", "fontSize": 10, "color": "#000000"},
      "encoding": {"text": {"field": "t"}}
    },
    {
      "data": {"name": "rightText"},
      "mark": {"type": "text", "align": "right", "baseline": "middle", "fontSize": 10},
      "encoding": {
        "text": {"field": "t"},
        "color": {"field": "kind", "type": "nominal", "legend": null,
          "scale": {"domain": ["plain", "temperature", "dewpoint", "wetbulb", "altitude", "isotherm", "adiabat", "mixing", "maxwind", "brand", "mixtitle"],
                    "range": ["#000000", "#ff0000", "#009a00", "#3a7bff", "#1f1fff", "#a0a0a0", "#f6ae8a", "#9ccc3c", "#ff1a1a", "#ff1a1a", "#5fcc1f"]}}
      }
    },
    {
      "data": {"name": "header"},
      "mark": {"type": "text", "align": "left", "baseline": "middle", "fontSize": 12, "fontWeight": "bold", "color": "#000000"},
      "encoding": {"text": {"field": "t"}}
    },
    {
      "data": {"values": [{"t": "CHMI © 2026", "x": 59.2, "p": 96}]},
      "mark": {"type": "text", "align": "right", "baseline": "middle", "fontSize": 11.5, "color": "#ff1a1a"},
      "encoding": {"text": {"field": "t"}}
    },
    {
      "data": {"values": [
        {"t": "Pressure [hPa]", "x": -45.93, "p": 509.9, "kind": "plain"},
        {"t": "/", "x": -45.93, "p": 338.5, "kind": "plain"},
        {"t": "Altitude [km]", "x": -45.93, "p": 319.0, "kind": "altitude"}
      ]},
      "mark": {"type": "text", "align": "left", "baseline": "middle", "fontSize": 11, "angle": 270},
      "encoding": {
        "text": {"field": "t"},
        "color": {"field": "kind", "type": "nominal", "legend": null,
          "scale": {"domain": ["plain", "temperature", "dewpoint", "wetbulb", "altitude", "isotherm", "adiabat", "mixing", "maxwind", "brand", "mixtitle"],
                    "range": ["#000000", "#ff0000", "#009a00", "#3a7bff", "#1f1fff", "#a0a0a0", "#f6ae8a", "#9ccc3c", "#ff1a1a", "#ff1a1a", "#5fcc1f"]}}
      }
    },
    {
      "data": {"values": [
        {"t": "Temperature [°C]", "x": -12.05, "p": 1148, "kind": "plain"},
        {"t": "/", "x": 4.2, "p": 1148, "kind": "plain"},
        {"t": "Mixing ratio [g/kg]", "x": 6.7, "p": 1148, "kind": "mixtitle"}
      ]},
      "mark": {"type": "text", "align": "left", "baseline": "middle", "fontSize": 11},
      "encoding": {
        "text": {"field": "t"},
        "color": {"field": "kind", "type": "nominal", "legend": null,
          "scale": {"domain": ["plain", "temperature", "dewpoint", "wetbulb", "altitude", "isotherm", "adiabat", "mixing", "maxwind", "brand", "mixtitle"],
                    "range": ["#000000", "#ff0000", "#009a00", "#3a7bff", "#1f1fff", "#a0a0a0", "#f6ae8a", "#9ccc3c", "#ff1a1a", "#ff1a1a", "#5fcc1f"]}}
      }
    },
    {
      "data": {"name": "barbsWind"},
      "mark": {"type": "point", "filled": true, "fill": "#000000", "stroke": "#000000", "strokeWidth": 1.1, "size": 2304, "opacity": 1, "clip": false},
      "encoding": {
        "shape": {"field": "spd", "type": "nominal", "legend": null,
          "scale": {"domain": [20, 30, 35, 40, 50, 70, 80, 100],
            "range": [
              "M-0.07,-0.07L0.07,-0.07L0.07,0.07L-0.07,0.07ZM0,0L-1,0M-1,0L-1,-0.42M-0.86,0L-0.86,-0.42",
              "M-0.07,-0.07L0.07,-0.07L0.07,0.07L-0.07,0.07ZM0,0L-1,0M-1,0L-1,-0.42M-0.86,0L-0.86,-0.42M-0.72,0L-0.72,-0.42",
              "M-0.07,-0.07L0.07,-0.07L0.07,0.07L-0.07,0.07ZM0,0L-1,0M-1,0L-1,-0.42M-0.86,0L-0.86,-0.42M-0.72,0L-0.72,-0.42M-0.58,0L-0.58,-0.22",
              "M-0.07,-0.07L0.07,-0.07L0.07,0.07L-0.07,0.07ZM0,0L-1,0M-1,0L-1,-0.42M-0.86,0L-0.86,-0.42M-0.72,0L-0.72,-0.42M-0.58,0L-0.58,-0.42",
              "M-0.07,-0.07L0.07,-0.07L0.07,0.07L-0.07,0.07ZM0,0L-1,0M-1,0L-1,-0.42L-0.8,0Z",
              "M-0.07,-0.07L0.07,-0.07L0.07,0.07L-0.07,0.07ZM0,0L-1,0M-1,0L-1,-0.42L-0.8,0ZM-0.72,0L-0.72,-0.42M-0.58,0L-0.58,-0.42",
              "M-0.07,-0.07L0.07,-0.07L0.07,0.07L-0.07,0.07ZM0,0L-1,0M-1,0L-1,-0.42L-0.8,0ZM-0.72,0L-0.72,-0.42M-0.58,0L-0.58,-0.42M-0.44,0L-0.44,-0.42",
              "M-0.07,-0.07L0.07,-0.07L0.07,0.07L-0.07,0.07ZM0,0L-1,0M-1,0L-1,-0.42L-0.8,0ZM-0.8,0L-0.8,-0.42L-0.6,0ZM-0.52,0L-0.52,-0.42M-0.38,0L-0.38,-0.42"
            ]}},
        "angle": {"field": "dir", "type": "quantitative", "scale": {"domain": [270, 360], "range": [0, 90]}}
      }
    },
    {
      "data": {"name": "barbsMax"},
      "mark": {"type": "point", "filled": true, "fill": "#ff0000", "stroke": "#ff0000", "strokeWidth": 1.1, "size": 2304, "opacity": 1, "clip": false},
      "encoding": {
        "shape": {"field": "spd", "type": "nominal", "legend": null},
        "angle": {"field": "dir", "type": "quantitative"}
      }
    },
    {
      "data": {"name": "barbsSfc"},
      "mark": {"type": "point", "filled": true, "fill": "#0000ff", "stroke": "#0000ff", "strokeWidth": 1.1, "size": 2304, "opacity": 1, "clip": false},
      "encoding": {
        "shape": {"field": "spd", "type": "nominal", "legend": null},
        "angle": {"field": "dir", "type": "quantitative"}
      }
    }
  ]
}
